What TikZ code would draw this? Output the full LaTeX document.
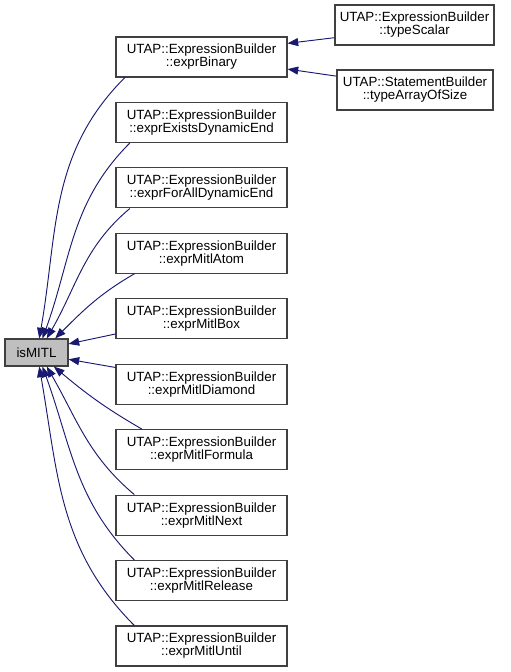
\documentclass[tikz,border=0pt]{standalone}
\usepackage{fontspec}
\setmainfont{Liberation Sans}
\usetikzlibrary{arrows.meta}
\definecolor{edgeblue}{HTML}{191970}
\definecolor{boxgray}{HTML}{404040}
\definecolor{curfill}{HTML}{BFBFBF}

\begin{document}
\begin{tikzpicture}[x=0.75pt,y=0.75pt,font=\fontsize{10}{9.8}\selectfont,
 fn/.style={draw=boxgray,line width=0.8pt,fill=white,rectangle,align=center,inner sep=0pt,minimum width=128.25pt,minimum height=30pt},
 cur/.style={fn,fill=curfill,minimum width=47.25pt,minimum height=20.25pt},
 call/.style={draw=edgeblue,line width=0.7pt,-{Triangle[length=8pt,width=6pt]}}]
\useasboundingbox (0,0) rectangle (511,-672);
\node[cur] (mitl) at (36.5,-352.5) {isMITL};
\node[fn] (binary) at (201.5,-57) {UTAP::ExpressionBuilder\\::exprBinary};
\node[fn] (exists) at (201.5,-122.4) {UTAP::ExpressionBuilder\\::exprExistsDynamicEnd};
\node[fn] (forall) at (201.5,-187.9) {UTAP::ExpressionBuilder\\::exprForAllDynamicEnd};
\node[fn] (atom) at (201.5,-253.3) {UTAP::ExpressionBuilder\\::exprMitlAtom};
\node[fn] (box) at (201.5,-318.8) {UTAP::ExpressionBuilder\\::exprMitlBox};
\node[fn] (diamond) at (201.5,-384.2) {UTAP::ExpressionBuilder\\::exprMitlDiamond};
\node[fn] (formula) at (201.5,-449.6) {UTAP::ExpressionBuilder\\::exprMitlFormula};
\node[fn] (next) at (201.5,-515.1) {UTAP::ExpressionBuilder\\::exprMitlNext};
\node[fn] (release) at (201.5,-580.5) {UTAP::ExpressionBuilder\\::exprMitlRelease};
\node[fn] (until) at (201.5,-646) {UTAP::ExpressionBuilder\\::exprMitlUntil};
\node[fn,minimum width=119.25pt] (scalar) at (414.5,-25) {UTAP::ExpressionBuilder\\::typeScalar};
\node[fn,minimum width=117pt] (arrsize) at (415,-90) {UTAP::StatementBuilder\\::typeArrayOfSize};
% callers of exprBinary
\draw[call] (scalar.189.3) -- (binary.9.3);
\draw[call] (arrsize.170.5) -- (binary.-8.6);
% callers of isMITL
\draw[call] (binary.195.6) to[out=225,in=80] (mitl.79.5);
\draw[call] (exists.196.1) to[out=225,in=70] (mitl.67.8);
\draw[call] (forall.196.3) to[out=220,in=60] (mitl.54.9);
\draw[call] (atom.197.5) to[out=210,in=45] (mitl.37.6);
\draw[call] (box.190.6) -- (mitl.15);
\draw[call] (diamond.169.4) -- (mitl.-12);
\draw[call] (formula.161.4) to[out=150,in=-40] (mitl.-39.3);
\draw[call] (next.163) to[out=140,in=-60] (mitl.-54.9);
\draw[call] (release.163.7) to[out=135,in=-70] (mitl.-67.8);
\draw[call] (until.163.9) to[out=135,in=-80] (mitl.-79.5);
\end{tikzpicture}
\end{document}
